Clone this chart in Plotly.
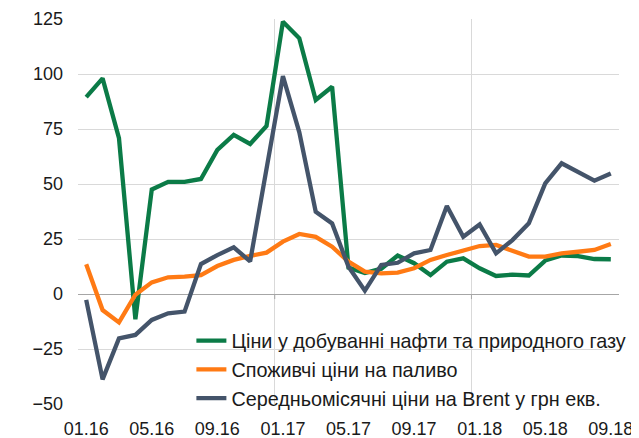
import plotly.graph_objects as go

months = ["01.16","02.16","03.16","04.16","05.16","06.16","07.16","08.16","09.16","10.16","11.16","12.16",
          "01.17","02.17","03.17","04.17","05.17","06.17","07.17","08.17","09.17","10.17","11.17","12.17",
          "01.18","02.18","03.18","04.18","05.18","06.18","07.18","08.18","09.18"]

oil_gas_production = [89.5, 98, 70.8, -11.5, 47.5, 51, 51, 52.3, 65.5, 72.3, 68.2, 76.4,
                      123.8, 116.2, 88.2, 94.2, 12, 9.5, 11.5, 17.5, 14, 8.6, 14.7, 16.2,
                      11.7, 8.2, 8.8, 8.4, 15.2, 17.5, 17.2, 15.9, 15.8]
consumer_fuel = [13.5, -7.3, -12.9, -0.3, 5.3, 7.6, 7.9, 8.6, 12.7, 15.5, 17.3, 18.8,
                 23.8, 27.3, 26, 21.5, 14.7, 10.2, 9.4, 9.7, 11.7, 15.5, 17.7, 19.7,
                 21.8, 22.3, 19.7, 17, 17, 18.5, 19.2, 20, 22.7]
brent_uah = [-2.7, -38.8, -20.2, -18.6, -11.8, -8.8, -8.0, 13.6, 17.7, 21.2, 14.8, 58,
             99, 73.5, 37.4, 32.1, 12.4, 1.5, 13.2, 14.2, 18.5, 20, 40, 26,
             31.6, 18.5, 24.5, 32.1, 50.3, 59.4, 55.6, 51.5, 54.8]

names = ["Ціни у добуванні нафти та природного газу",
         "Споживчі ціни на паливо",
         "Середньомісячні ціни на Brent у грн екв."]
colors = ["#0b7b47", "#ff7a14", "#44546a"]

tick_labels = months[::4]
x = list(range(len(months)))

fig = go.Figure()
for name, vals, col in zip(names, [oil_gas_production, consumer_fuel, brent_uah], colors):
    fig.add_trace(go.Scatter(x=x, y=vals, mode="lines", name=name,
                             line=dict(color=col, width=4.3)))

# small tick marks on the zero line at year boundaries
for b in [11.5, 23.5]:
    fig.add_shape(type="line", xref="x", yref="y", x0=b, x1=b, y0=0, y1=-2.3,
                  line=dict(color="#a6a6a6", width=1))

font = "Liberation Sans, Arial, sans-serif"
# page body has an 8px default margin, so the figure is sized 8px smaller
fig.update_layout(
    width=631, height=430,
    margin=dict(l=70, r=20, t=11, b=34, autoexpand=False),
    plot_bgcolor="white", paper_bgcolor="white",
    font=dict(family=font, size=18, color="#1a1a1a"),
    showlegend=True,
    legend=dict(x=0.2096, y=0.215, xanchor="left", yanchor="top",
                bgcolor="rgba(0,0,0,0)", font=dict(size=19.8),
                tracegroupgap=0),
    xaxis=dict(range=[-0.5, 32.5], tickmode="array", tickvals=x[::4], ticktext=tick_labels,
               showgrid=False, zeroline=False, showline=False, automargin=False,
               ticks="outside", ticklen=8, tickcolor="rgba(0,0,0,0)",
               minor=dict(tick0=-0.5, dtick=12, showgrid=True, gridcolor="#d9d9d9", gridwidth=1,
                          ticks=""),
               tickfont=dict(size=18)),
    yaxis=dict(range=[-50, 125], tickmode="array", tickvals=[-50, -25, 0, 25, 50, 75, 100, 125],
               showgrid=True, gridcolor="#d9d9d9", gridwidth=1, automargin=False,
               zeroline=True, zerolinecolor="#a6a6a6", zerolinewidth=1,
               showline=False, ticklabelstandoff=14, tickfont=dict(size=18)),
)

fig.write_html("out.html")
